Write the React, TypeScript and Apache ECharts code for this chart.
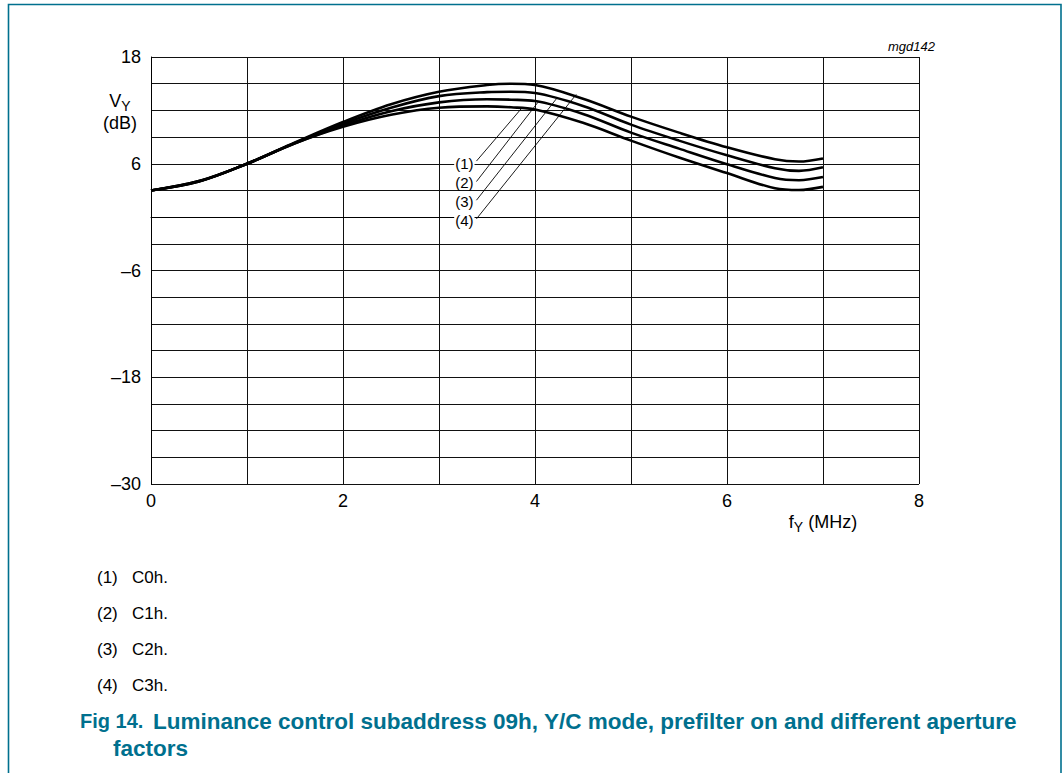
import React, { useEffect, useRef } from "react";
import * as echarts from "echarts";

const freqs = [0, 0.5, 1, 1.5, 2, 2.5, 3, 3.5, 3.75, 4, 4.5, 5, 5.5, 6, 6.5, 6.75, 7];
const curveC3h = [3.0, 4.05, 6.0, 8.4, 10.7, 12.7, 14.1, 14.85, 15.0, 14.85, 13.3, 11.3, 9.5, 7.85, 6.5, 6.25, 6.6];
const curveC2h = [3.0, 4.05, 6.0, 8.35, 10.5, 12.3, 13.6, 14.05, 14.1, 13.95, 12.5, 10.4, 8.6, 6.95, 5.5, 5.2, 5.6];
const curveC1h = [3.0, 4.0, 6.0, 8.3, 10.3, 11.9, 12.9, 13.25, 13.2, 13.05, 11.6, 9.5, 7.7, 5.95, 4.4, 4.15, 4.5];
const curveC0h = [3.0, 4.0, 6.0, 8.3, 10.15, 11.5, 12.3, 12.45, 12.35, 12.1, 10.6, 8.6, 6.7, 4.95, 3.25, 3.05, 3.4];

const curveLabels = ["(1)", "(2)", "(3)", "(4)"];
// leader lines: [label anchor point, point on curve]
const leaderStarts = [
  [3.39, 6.3],
  [3.39, 4.0],
  [3.39, 1.9],
  [3.39, -0.2],
];
const leaderEnds = [
  [3.86, 12.23],
  [4.03, 12.9],
  [4.23, 13.4],
  [4.43, 13.8],
];
const labelPoints = [
  [3.37, 6.0],
  [3.37, 3.9],
  [3.37, 1.8],
  [3.37, -0.4],
];

const xTickLabels = [0, 2, 4, 6, 8];
const yTickLabels = [18, 6, -6, -18, -30];

const footnotes = [
  ["(1)", "C0h."],
  ["(2)", "C1h."],
  ["(3)", "C2h."],
  ["(4)", "C3h."],
];
const captionNumber = "Fig 14.";
const captionLine1 = "Luminance control subaddress 09h, Y/C mode, prefilter on and different aperture";
const captionLine2 = "factors";

const TEAL = "#00708e";
const FONT = "'Liberation Sans', Arial, sans-serif";

export default function App() {
  const ref = useRef<HTMLDivElement>(null);
  useEffect(() => {
    document.body.style.margin = "0";
    const chart = echarts.init(ref.current!, undefined, { renderer: "svg" });
    const curves = [curveC0h, curveC1h, curveC2h, curveC3h];
    const curveSeries = curves.map((c, i) => ({
      type: "line",
      name: curveLabels[i],
      data: freqs.map((f, j) => [f, c[j]]),
      smooth: 0.35,
      symbol: "none",
      lineStyle: { color: "#000", width: 2.6 },
      z: 5,
    }));
    const leaderSeries = leaderStarts.map((s, i) => ({
      type: "line",
      data: [s, leaderEnds[i]],
      symbol: "none",
      lineStyle: { color: "#000", width: 0.9 },
      z: 4,
    }));
    const labelSeries = {
      type: "scatter",
      symbolSize: 0,
      itemStyle: { color: "#fff" },
      data: labelPoints.map((p, i) => ({
        value: p,
        label: {
          show: true,
          formatter: curveLabels[i],
          position: "left",
          distance: 0,
          color: "#000",
          opacity: 1,
          fontSize: 15,
          fontFamily: FONT,
          backgroundColor: "#fff",
          padding: [0, 1, 0, 1],
        },
      })),
      z: 6,
    };

    const graphics: any[] = [
      {
        type: "polyline",
        shape: { points: [[8.5, 773], [8.5, 4.5], [1061, 4.5], [1061, 773]] },
        style: { stroke: TEAL, lineWidth: 1.6, fill: null },
      },
      {
        type: "text",
        x: 935,
        y: 46,
        style: { text: "mgd142", font: `italic 13px ${FONT}`, fill: "#000", textAlign: "right", textVerticalAlign: "middle" },
      },
      {
        type: "text",
        x: 120,
        y: 101,
        style: {
          text: "{a|V}{b|Y}",
          rich: {
            a: { fontSize: 18, fontFamily: FONT, color: "#000" },
            b: { fontSize: 14, fontFamily: FONT, color: "#000", padding: [10, 0, 0, 0] },
          },
          textAlign: "center",
          textVerticalAlign: "middle",
        },
      },
      {
        type: "text",
        x: 120,
        y: 123,
        style: { text: "(dB)", font: `18px ${FONT}`, fill: "#000", textAlign: "center", textVerticalAlign: "middle" },
      },
      {
        type: "text",
        x: 823,
        y: 522,
        style: {
          text: "{a|f}{b|Y}{a| (MHz)}",
          rich: {
            a: { fontSize: 18, fontFamily: FONT, color: "#000" },
            b: { fontSize: 14, fontFamily: FONT, color: "#000", padding: [10, 0, 0, 0] },
          },
          textAlign: "center",
          textVerticalAlign: "middle",
        },
      },
    ];
    footnotes.forEach((fn, i) => {
      const y = 577 + i * 36;
      graphics.push({
        type: "text",
        x: 97,
        y,
        style: { text: fn[0], font: `17px ${FONT}`, fill: "#000", textVerticalAlign: "middle" },
      });
      graphics.push({
        type: "text",
        x: 132,
        y,
        style: { text: fn[1], font: `17px ${FONT}`, fill: "#000", textVerticalAlign: "middle" },
      });
    });
    graphics.push({
      type: "text",
      x: 80,
      y: 721,
      style: { text: captionNumber, font: `bold 20px ${FONT}`, fill: TEAL, textVerticalAlign: "middle" },
    });
    graphics.push({
      type: "text",
      x: 153,
      y: 721,
      style: { text: captionLine1, font: `bold 22.5px ${FONT}`, fill: TEAL, textVerticalAlign: "middle" },
    });
    graphics.push({
      type: "text",
      x: 113,
      y: 748,
      style: { text: captionLine2, font: `bold 22.5px ${FONT}`, fill: TEAL, textVerticalAlign: "middle" },
    });

    chart.setOption({
      animation: false,
      backgroundColor: "#fff",
      grid: { left: 151, top: 57, width: 768, height: 427, containLabel: false },
      xAxis: {
        type: "value",
        min: 0,
        max: 8,
        interval: 1,
        axisLine: { show: true, lineStyle: { color: "#000", width: 1 } },
        axisTick: { show: false },
        splitLine: { show: true, lineStyle: { color: "#111", width: 1 } },
        axisLabel: {
          margin: 8,
          fontSize: 18,
          fontFamily: FONT,
          color: "#000",
          formatter: (v: number) => (xTickLabels.includes(v) ? String(v) : ""),
        },
      },
      yAxis: {
        type: "value",
        min: -30,
        max: 18,
        interval: 3,
        axisLine: { show: true, lineStyle: { color: "#000", width: 1 } },
        axisTick: { show: false },
        splitLine: { show: true, lineStyle: { color: "#111", width: 1 } },
        axisLabel: {
          margin: 10,
          fontSize: 18,
          fontFamily: FONT,
          color: "#000",
          formatter: (v: number) => (yTickLabels.includes(v) ? (v < 0 ? "\u2013" + Math.abs(v) : String(v)) : ""),
        },
      },
      series: [...curveSeries, ...leaderSeries, labelSeries],
      graphic: graphics,
    });
    return () => chart.dispose();
  }, []);
  return <div ref={ref} style={{ position: "absolute", left: 0, top: 0, width: 1063, height: 773 }} />;
}
